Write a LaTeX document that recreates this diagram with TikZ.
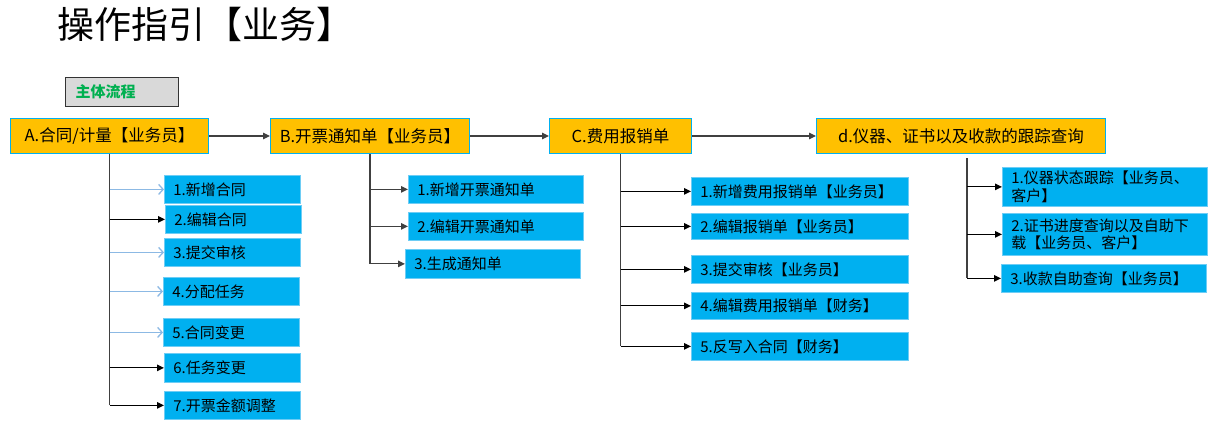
\documentclass[tikz,border=0pt]{standalone}
\usepackage{fontspec}
\setmainfont{Noto Sans CJK SC}
\usepackage{tikz}
\usetikzlibrary{arrows.meta}
\definecolor{mainorange}{RGB}{255,192,0}
\definecolor{subblue}{RGB}{0,176,240}
\definecolor{subedge}{RGB}{110,205,245}
\definecolor{paleblue}{RGB}{140,185,228}
\definecolor{headgreen}{RGB}{0,176,80}
\definecolor{headgray}{RGB}{217,217,217}
\definecolor{linegray}{RGB}{64,64,64}

\begin{document}
\begin{tikzpicture}[x=1pt,y=-1pt,
    stage/.style={draw=subblue,fill=mainorange,line width=1pt,minimum height=35pt,inner sep=0pt,anchor=north west,font=\fontsize{16.5}{19}\selectfont},
    task/.style={draw=subedge,fill=subblue,line width=0.8pt,minimum height=28pt,inner xsep=9pt,inner ysep=2pt,text width=#1,align=left,anchor=north west,font=\fontsize{15}{17.5}\selectfont},
    trunk/.style={draw=linegray,line width=1.3pt},
    link/.style={draw=black,line width=1.1pt,-{Triangle[length=7pt,width=6.5pt]}},
    palelink/.style={draw=paleblue,line width=1.3pt,-{Straight Barb[length=4.5pt,width=10pt]}}]
        \useasboundingbox (0,0) rectangle (1220,425);
        \node[anchor=north west,inner sep=0pt,font=\fontsize{37}{42}\selectfont] (title) at (57,7) {操作指引【业务】};
        \node[draw=black!80,fill=headgray,line width=1.2pt,minimum width=113pt,minimum height=29pt,inner xsep=10pt,text width=93pt,align=left,anchor=north west,text=headgreen,font=\fontsize{15}{17}\selectfont\bfseries] (head) at (65,77) {主体流程};
        \node[stage,minimum width=198pt] (A) at (10,118) {A.合同/计量【业务员】};
        \node[stage,minimum width=199pt] (B) at (270,118) {B.开票通知单【业务员】};
        \node[stage,minimum width=142pt] (C) at (549,118) {C.费用报销单};
        \node[stage,minimum width=289pt] (D) at (816,118) {d.仪器、证书以及收款的跟踪查询};
        \draw[link,draw=linegray] (A.east) -- (B.west);
        \draw[link,draw=linegray] (B.east) -- (C.west);
        \draw[link,draw=linegray] (C.east) -- (D.west);

        \node[task=118pt] (a1) at (164,175) {1.新增合同};
        \node[task=118pt] (a2) at (165,205) {2.编辑合同};
        \node[task=118pt] (a3) at (164,238) {3.提交审核};
        \node[task=118pt] (a4) at (163,277) {4.分配任务};
        \node[task=118pt] (a5) at (163,318) {5.合同变更};
        \node[task=118pt,minimum height=29pt] (a6) at (164,353) {6.任务变更};
        \node[task=118pt] (a7) at (164,391) {7.开票金额调整};
        \draw[trunk] (A.south) -- (A.south |- a7.west);
        \draw[palelink] (A.south |- a1.west) -- (a1.west);
        \draw[link] (A.south |- a2.west) -- (a2.west);
        \draw[palelink] (A.south |- a3.west) -- (a3.west);
        \draw[palelink] (A.south |- a4.west) -- (a4.west);
        \draw[palelink] (A.south |- a5.west) -- (a5.west);
        \draw[link] (A.south |- a6.west) -- (a6.west);
        \draw[link] (A.south |- a7.west) -- (a7.west);

        \node[task=157pt] (b1) at (408,175) {1.新增开票通知单};
        \node[task=157pt] (b2) at (408,212) {2.编辑开票通知单};
        \node[task=157pt,minimum height=29pt] (b3) at (405,249) {3.生成通知单};
        \draw[trunk] (B.south) -- (B.south |- b3.west);
        \draw[link,draw=linegray] (B.south |- b1.west) -- (b1.west);
        \draw[link,draw=linegray] (B.south |- b2.west) -- (b2.west);
        \draw[link,draw=linegray] (B.south |- b3.west) -- (b3.west);

        \node[task=199pt] (c1) at (691,177) {1.新增费用报销单【业务员】};
        \node[task=199pt,minimum height=26pt] (c2) at (691,213) {2.编辑报销单【业务员】};
        \node[task=199pt] (c3) at (691,255) {3.提交审核【业务员】};
        \node[task=199pt,minimum height=27pt] (c4) at (691,292) {4.编辑费用报销单【财务】};
        \node[task=199pt] (c5) at (691,332) {5.反写入合同【财务】};
        \draw[trunk] (C.south) -- (C.south |- c5.west);
        \foreach \n in {c1,c2,c3,c4,c5}
            \draw[link] (C.south |- \n.west) -- (\n.west);

        \node[task=187pt,minimum height=39pt] (d1) at (1002,167) {1.仪器状态跟踪【业务员、\\客户】};
        \node[task=187pt,minimum height=42pt] (d2) at (1002,213) {2.证书进度查询以及自助下\\载【业务员、客户】};
        \node[task=187pt] (d3) at (1001,264) {3.收款自助查询【业务员】};
        \coordinate (dtop) at (967,158);
        \draw[trunk] (dtop) -- (dtop |- d3.west);
        \foreach \n in {d1,d2,d3}
            \draw[link] (dtop |- \n.west) -- (\n.west);
    \end{tikzpicture}
\end{document}
